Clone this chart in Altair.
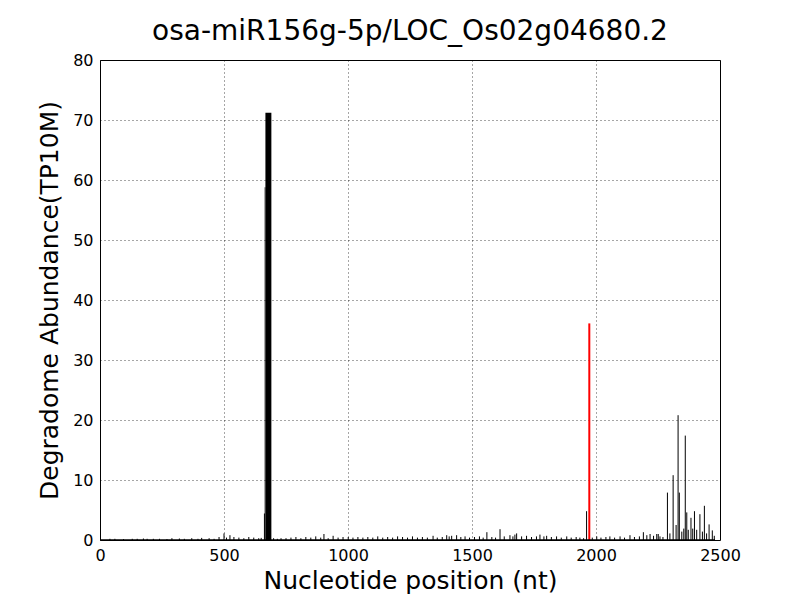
import altair as alt
import pandas as pd

title_text = "osa-miR156g-5p/LOC_Os02g04680.2"
x_title = "Nucleotide position (nt)"
y_title = "Degradome Abundance(TP10M)"
x_ticks = [0, 500, 1000, 1500, 2000, 2500]
y_ticks = [0, 10, 20, 30, 40, 50, 60, 70, 80]
transcript_len = 2480

# small background signal (position, abundance)
noise_pos = [40, 60, 95, 130, 150, 175, 190, 215, 240, 270, 290, 320, 340, 370, 395, 410, 440, 460, 480, 500, 510, 524, 540, 560, 580, 600, 620, 640, 650,
             700, 715, 730, 750, 770, 790, 810, 830, 850, 870, 890, 903, 920, 940, 960, 980, 1001, 1020, 1040, 1060, 1080, 1100, 1120, 1140, 1160, 1180,
             1200, 1220, 1240, 1260, 1280, 1300, 1320, 1343, 1360, 1380, 1398, 1408, 1418, 1438, 1455, 1472, 1490, 1510, 1530, 1545, 1560, 1580, 1595,
             1613, 1630, 1653, 1665, 1673, 1680, 1700, 1720, 1740, 1760, 1774, 1790, 1801, 1820, 1841, 1860, 1882, 1900, 1920, 1935, 1950, 1962, 1985,
             2003, 2020, 2040, 2056, 2075, 2097, 2115, 2137, 2155, 2175, 2191, 2205, 2218, 2232, 2245, 2258, 2270]
noise_val = [0.2, 0.2, 0.15, 0.2, 0.2, 0.25, 0.2, 0.2, 0.2, 0.15, 0.3, 0.25, 0.2, 0.3, 0.2, 0.35, 0.3, 0.2, 0.5, 1.1, 0.4, 0.8, 0.5, 0.4, 0.3, 0.5, 0.4, 0.3, 0.35,
             0.3, 0.2, 0.3, 0.3, 0.4, 0.5, 0.3, 0.5, 0.4, 0.6, 0.4, 1.0, 0.3, 0.7, 0.4, 0.5, 0.5, 0.4, 0.5, 0.4, 0.5, 0.4, 0.6, 0.4, 0.5, 0.4,
             0.6, 0.5, 0.4, 0.6, 0.4, 0.5, 0.4, 0.7, 0.4, 0.5, 0.8, 0.6, 0.7, 0.8, 0.5, 0.6, 0.4, 0.5, 0.6, 0.4, 1.3, 0.5, 0.4,
             1.8, 0.6, 0.8, 0.6, 0.9, 1.1, 0.6, 0.7, 0.5, 0.6, 0.9, 0.6, 0.7, 0.5, 0.6, 0.4, 0.6, 0.4, 0.5, 0.4, 0.3, 4.8, 0.4,
             0.6, 0.4, 0.5, 0.6, 0.4, 0.6, 0.4, 0.8, 0.5, 0.6, 1.3, 0.8, 1.0, 0.7, 1.0, 0.6, 0.5]

# 3' cluster of peaks
cluster_pos = [2251, 2288, 2298, 2311, 2323, 2331, 2336, 2346, 2354, 2360, 2366, 2372, 2383, 2390, 2397, 2406, 2419, 2429, 2437, 2446, 2456, 2469, 2477]
cluster_val = [1.0, 7.9, 1.1, 10.8, 2.5, 20.8, 7.9, 1.4, 1.9, 17.4, 4.6, 1.7, 3.7, 1.9, 4.8, 1.7, 4.3, 1.4, 5.7, 1.1, 2.6, 1.6, 0.7]

# main block of high abundance (start, end, abundance)
block_start = [661, 664, 667]
block_end = [665, 667, 691]
block_val = [4.4, 58.8, 71.2]

# predicted cleavage site
target_pos = [1973]
target_val = [36.1]

black_df = pd.DataFrame({"pos": noise_pos + cluster_pos, "val": noise_val + cluster_val})
block_df = pd.DataFrame({"start": block_start, "end": block_end, "val": block_val})
target_df = pd.DataFrame({"pos": target_pos, "val": target_val})
base_df = pd.DataFrame({"start": [1], "end": [transcript_len], "val": [0]})

x_scale = alt.Scale(domain=[0, 2500], nice=False, zero=False)
y_scale = alt.Scale(domain=[0, 80], nice=False)

x_axis = alt.Axis(values=x_ticks, title=x_title, format="d")
y_axis = alt.Axis(values=y_ticks, title=y_title, format="d")

rules = alt.Chart(black_df).mark_rule(color="black", strokeWidth=1).encode(
    x=alt.X("pos:Q", scale=x_scale, axis=x_axis),
    y=alt.Y("val:Q", scale=y_scale, axis=y_axis),
    y2=alt.datum(0),
)

blocks = alt.Chart(block_df).mark_rect(color="black").encode(
    x=alt.X("start:Q", scale=x_scale),
    x2="end:Q",
    y=alt.Y("val:Q", scale=y_scale),
    y2=alt.datum(0),
)

target = alt.Chart(target_df).mark_rule(color="#ff0000", strokeWidth=2).encode(
    x=alt.X("pos:Q", scale=x_scale),
    y=alt.Y("val:Q", scale=y_scale),
    y2=alt.datum(0),
)

baseline = alt.Chart(base_df).mark_rule(color="black", strokeWidth=1.5).encode(
    x=alt.X("start:Q", scale=x_scale),
    x2="end:Q",
    y=alt.Y("val:Q", scale=y_scale),
)

chart = alt.layer(rules, blocks, target, baseline).properties(
    width=620,
    height=480,
    background="white",
    title=alt.TitleParams(title_text, fontSize=28, font="DejaVu Sans", fontWeight="normal",
                          anchor="middle", offset=6, color="black"),
    autosize=alt.AutoSizeParams(type="none"),
    padding={"left": 92, "top": 52, "right": 72, "bottom": 60},
).configure_view(
    stroke="black", strokeWidth=1
).configure_axis(
    grid=True, gridColor="black", gridDash=[1, 3], gridWidth=1, gridOpacity=0.7,
    domain=False, ticks=False, labelFlush=False,
    labelFont="DejaVu Sans", labelFontSize=16, labelColor="black", labelPadding=7,
    titleFont="DejaVu Sans", titleFontSize=25, titleFontWeight="normal", titleColor="black",
).configure_axisX(
    titlePadding=5
).configure_axisY(
    titlePadding=10
)

chart.save("out.html", embed_options={"renderer": "svg", "actions": False})
